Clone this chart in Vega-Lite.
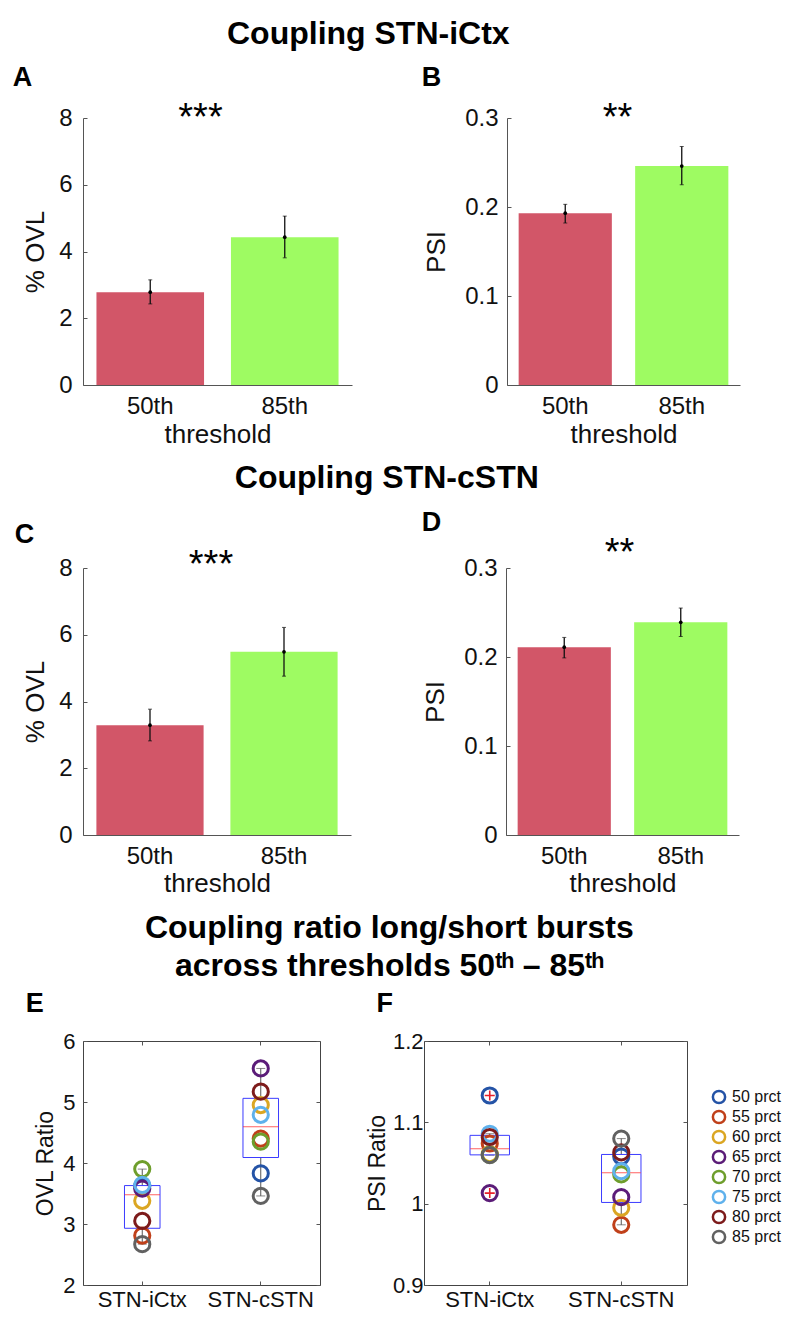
{
  "$schema": "https://vega.github.io/schema/vega-lite/v6.json",
  "background": "white",
  "padding": {"left": 12, "top": 18, "right": 5, "bottom": 5},
  "config": {
    "font": "Liberation Sans",
    "view": {"stroke": null},
    "axis": {"grid": false, "domainColor": "#555555", "tickColor": "#555555", "labelColor": "#111111", "titleColor": "#111111", "titleFontWeight": "normal", "labelFont": "Liberation Sans", "titleFont": "Liberation Sans", "tickSize": -4, "domainWidth": 1, "tickWidth": 1},
    "title": {"font": "Liberation Sans", "color": "#000000", "fontWeight": "bold"}
  },
  "datasets": {
    "bars": [
      {"panel": "A", "threshold": "50th", "mean": 2.78, "lo": 2.43, "hi": 3.15},
      {"panel": "A", "threshold": "85th", "mean": 4.43, "lo": 3.81, "hi": 5.06},
      {"panel": "B", "threshold": "50th", "mean": 0.193, "lo": 0.182, "hi": 0.203},
      {"panel": "B", "threshold": "85th", "mean": 0.246, "lo": 0.225, "hi": 0.268},
      {"panel": "C", "threshold": "50th", "mean": 3.29, "lo": 2.82, "hi": 3.77},
      {"panel": "C", "threshold": "85th", "mean": 5.49, "lo": 4.76, "hi": 6.22},
      {"panel": "D", "threshold": "50th", "mean": 0.211, "lo": 0.199, "hi": 0.222},
      {"panel": "D", "threshold": "85th", "mean": 0.239, "lo": 0.223, "hi": 0.255}
    ],
    "sig": [
      {"panel": "A", "sig": "***"},
      {"panel": "B", "sig": "**"},
      {"panel": "C", "sig": "***"},
      {"panel": "D", "sig": "**"}
    ],
    "ratios": [
      {"panel": "E", "pair": "STN-iCtx", "prct": "50 prct", "ratio": 3.62},
      {"panel": "E", "pair": "STN-iCtx", "prct": "55 prct", "ratio": 2.81},
      {"panel": "E", "pair": "STN-iCtx", "prct": "60 prct", "ratio": 3.38},
      {"panel": "E", "pair": "STN-iCtx", "prct": "65 prct", "ratio": 3.58},
      {"panel": "E", "pair": "STN-iCtx", "prct": "70 prct", "ratio": 3.90},
      {"panel": "E", "pair": "STN-iCtx", "prct": "75 prct", "ratio": 3.64},
      {"panel": "E", "pair": "STN-iCtx", "prct": "80 prct", "ratio": 3.05},
      {"panel": "E", "pair": "STN-iCtx", "prct": "85 prct", "ratio": 2.67},
      {"panel": "E", "pair": "STN-cSTN", "prct": "50 prct", "ratio": 3.83},
      {"panel": "E", "pair": "STN-cSTN", "prct": "55 prct", "ratio": 4.40},
      {"panel": "E", "pair": "STN-cSTN", "prct": "60 prct", "ratio": 4.95},
      {"panel": "E", "pair": "STN-cSTN", "prct": "65 prct", "ratio": 5.55},
      {"panel": "E", "pair": "STN-cSTN", "prct": "70 prct", "ratio": 4.35},
      {"panel": "E", "pair": "STN-cSTN", "prct": "75 prct", "ratio": 4.79},
      {"panel": "E", "pair": "STN-cSTN", "prct": "80 prct", "ratio": 5.17},
      {"panel": "E", "pair": "STN-cSTN", "prct": "85 prct", "ratio": 3.46},
      {"panel": "F", "pair": "STN-iCtx", "prct": "50 prct", "ratio": 1.133},
      {"panel": "F", "pair": "STN-iCtx", "prct": "55 prct", "ratio": 1.074},
      {"panel": "F", "pair": "STN-iCtx", "prct": "60 prct", "ratio": 1.061},
      {"panel": "F", "pair": "STN-iCtx", "prct": "65 prct", "ratio": 1.013},
      {"panel": "F", "pair": "STN-iCtx", "prct": "70 prct", "ratio": 1.060},
      {"panel": "F", "pair": "STN-iCtx", "prct": "75 prct", "ratio": 1.086},
      {"panel": "F", "pair": "STN-iCtx", "prct": "80 prct", "ratio": 1.082},
      {"panel": "F", "pair": "STN-iCtx", "prct": "85 prct", "ratio": 1.0596},
      {"panel": "F", "pair": "STN-cSTN", "prct": "50 prct", "ratio": 1.058},
      {"panel": "F", "pair": "STN-cSTN", "prct": "55 prct", "ratio": 0.974},
      {"panel": "F", "pair": "STN-cSTN", "prct": "60 prct", "ratio": 0.995},
      {"panel": "F", "pair": "STN-cSTN", "prct": "65 prct", "ratio": 1.008},
      {"panel": "F", "pair": "STN-cSTN", "prct": "70 prct", "ratio": 1.036},
      {"panel": "F", "pair": "STN-cSTN", "prct": "75 prct", "ratio": 1.040},
      {"panel": "F", "pair": "STN-cSTN", "prct": "80 prct", "ratio": 1.063},
      {"panel": "F", "pair": "STN-cSTN", "prct": "85 prct", "ratio": 1.080}
    ],
    "boxes": [
      {"panel": "E", "pair": "STN-iCtx", "lo": 2.67, "q1": 2.93, "median": 3.48, "q3": 3.63, "hi": 3.90},
      {"panel": "E", "pair": "STN-cSTN", "lo": 3.46, "q1": 4.09, "median": 4.595, "q3": 5.06, "hi": 5.55},
      {"panel": "F", "pair": "STN-iCtx", "lo": 1.0596, "q1": 1.060, "median": 1.0675, "q3": 1.084, "hi": 1.086},
      {"panel": "F", "pair": "STN-cSTN", "lo": 0.974, "q1": 1.0015, "median": 1.038, "q3": 1.0605, "hi": 1.080}
    ],
    "outliers": [
      {"panel": "F", "pair": "STN-iCtx", "value": 1.133},
      {"panel": "F", "pair": "STN-iCtx", "value": 1.013}
    ]
  },
  "resolve": {"scale": {"color": "independent"}},
  "columns": 1,
  "align": "none",
  "spacing": 15,
  "concat": [
    {
      "title": {"text": "Coupling STN-iCtx", "fontSize": 32, "anchor": "middle", "offset": 13, "dx": -8},
      "spacing": 69,
      "resolve": {"scale": {"color": "independent"}},
      "hconcat": [
        {
          "title": {"text": "A", "anchor": "start", "frame": "bounds", "fontSize": 27, "offset": 8, "dx": -10},
          "width": 269, "height": 267,
          "layer": [
            {"data": {"name": "bars"}, "transform": [{"filter": "datum.panel === 'A'"}],
             "mark": {"type": "bar"},
             "encoding": {
               "x": {"field": "threshold", "type": "nominal", "scale": {"domain": ["50th", "85th"], "paddingInner": 0.2, "paddingOuter": 0.1}, "axis": {"title": "threshold", "labelAngle": 0, "labelFontSize": 24, "titleFontSize": 26, "labelPadding": 13, "titlePadding": 3}},
               "y": {"field": "mean", "type": "quantitative", "scale": {"domain": [0, 8], "nice": false}, "axis": {"title": "% OVL", "values": [0, 2, 4, 6, 8], "labelFontSize": 24, "titleFontSize": 26, "labelPadding": 15, "titlePadding": 10}},
               "color": {"field": "threshold", "type": "nominal", "scale": {"domain": ["50th", "85th"], "range": ["#D25668", "#9EFB62"]}, "legend": null}}},
            {"data": {"name": "bars"}, "transform": [{"filter": "datum.panel === 'A'"}],
             "mark": {"type": "rule", "color": "#111111", "strokeWidth": 1.3},
             "encoding": {"x": {"field": "threshold", "type": "nominal"}, "y": {"field": "lo", "type": "quantitative"}, "y2": {"field": "hi"}}},
            {"data": {"name": "bars"}, "transform": [{"filter": "datum.panel === 'A'"}],
             "mark": {"type": "tick", "color": "#111111", "size": 4, "thickness": 1},
             "encoding": {"x": {"field": "threshold", "type": "nominal"}, "y": {"field": "lo", "type": "quantitative"}}},
            {"data": {"name": "bars"}, "transform": [{"filter": "datum.panel === 'A'"}],
             "mark": {"type": "tick", "color": "#111111", "size": 4, "thickness": 1},
             "encoding": {"x": {"field": "threshold", "type": "nominal"}, "y": {"field": "hi", "type": "quantitative"}}},
            {"data": {"name": "bars"}, "transform": [{"filter": "datum.panel === 'A'"}],
             "mark": {"type": "point", "filled": true, "color": "#000000", "size": 14, "opacity": 1},
             "encoding": {"x": {"field": "threshold", "type": "nominal"}, "y": {"field": "mean", "type": "quantitative"}}},
            {"data": {"name": "sig"}, "transform": [{"filter": "datum.panel === 'A'"}],
             "mark": {"type": "text", "fontSize": 38, "dx": -17, "dy": 12, "baseline": "alphabetic", "color": "#000000"},
             "encoding": {"y": {"datum": 8}, "text": {"field": "sig"}}}
          ]
        },
        {
          "title": {"text": "B", "anchor": "start", "frame": "bounds", "fontSize": 27, "offset": 8, "dx": -2},
          "width": 233, "height": 267,
          "layer": [
            {"data": {"name": "bars"}, "transform": [{"filter": "datum.panel === 'B'"}],
             "mark": {"type": "bar"},
             "encoding": {
               "x": {"field": "threshold", "type": "nominal", "scale": {"domain": ["50th", "85th"], "paddingInner": 0.2, "paddingOuter": 0.1}, "axis": {"title": "threshold", "labelAngle": 0, "labelFontSize": 24, "titleFontSize": 26, "labelPadding": 13, "titlePadding": 3}},
               "y": {"field": "mean", "type": "quantitative", "scale": {"domain": [0, 0.3], "nice": false}, "axis": {"title": "PSI", "values": [0, 0.1, 0.2, 0.3], "format": ".1~f", "labelFontSize": 24, "titleFontSize": 26, "labelPadding": 13, "titlePadding": 15}},
               "color": {"field": "threshold", "type": "nominal", "scale": {"domain": ["50th", "85th"], "range": ["#D25668", "#9EFB62"]}, "legend": null}}},
            {"data": {"name": "bars"}, "transform": [{"filter": "datum.panel === 'B'"}],
             "mark": {"type": "rule", "color": "#111111", "strokeWidth": 1.3},
             "encoding": {"x": {"field": "threshold", "type": "nominal"}, "y": {"field": "lo", "type": "quantitative"}, "y2": {"field": "hi"}}},
            {"data": {"name": "bars"}, "transform": [{"filter": "datum.panel === 'B'"}],
             "mark": {"type": "tick", "color": "#111111", "size": 4, "thickness": 1},
             "encoding": {"x": {"field": "threshold", "type": "nominal"}, "y": {"field": "lo", "type": "quantitative"}}},
            {"data": {"name": "bars"}, "transform": [{"filter": "datum.panel === 'B'"}],
             "mark": {"type": "tick", "color": "#111111", "size": 4, "thickness": 1},
             "encoding": {"x": {"field": "threshold", "type": "nominal"}, "y": {"field": "hi", "type": "quantitative"}}},
            {"data": {"name": "bars"}, "transform": [{"filter": "datum.panel === 'B'"}],
             "mark": {"type": "point", "filled": true, "color": "#000000", "size": 14, "opacity": 1},
             "encoding": {"x": {"field": "threshold", "type": "nominal"}, "y": {"field": "mean", "type": "quantitative"}}},
            {"data": {"name": "sig"}, "transform": [{"filter": "datum.panel === 'B'"}],
             "mark": {"type": "text", "fontSize": 38, "dx": -6, "dy": 12, "baseline": "alphabetic", "color": "#000000"},
             "encoding": {"y": {"datum": 0.3}, "text": {"field": "sig"}}}
          ]
        }
      ]
    },
    {
      "title": {"text": "Coupling STN-cSTN", "fontSize": 32, "anchor": "middle", "offset": 14, "dx": 10},
      "spacing": 70,
      "resolve": {"scale": {"color": "independent"}},
      "hconcat": [
        {
          "title": {"text": "C", "anchor": "start", "frame": "bounds", "fontSize": 27, "offset": -2, "dx": -8},
          "width": 268, "height": 267,
          "layer": [
            {"data": {"name": "bars"}, "transform": [{"filter": "datum.panel === 'C'"}],
             "mark": {"type": "bar"},
             "encoding": {
               "x": {"field": "threshold", "type": "nominal", "scale": {"domain": ["50th", "85th"], "paddingInner": 0.2, "paddingOuter": 0.1}, "axis": {"title": "threshold", "labelAngle": 0, "labelFontSize": 24, "titleFontSize": 26, "labelPadding": 13, "titlePadding": 2}},
               "y": {"field": "mean", "type": "quantitative", "scale": {"domain": [0, 8], "nice": false}, "axis": {"title": "% OVL", "values": [0, 2, 4, 6, 8], "labelFontSize": 24, "titleFontSize": 26, "labelPadding": 15, "titlePadding": 10}},
               "color": {"field": "threshold", "type": "nominal", "scale": {"domain": ["50th", "85th"], "range": ["#D25668", "#9EFB62"]}, "legend": null}}},
            {"data": {"name": "bars"}, "transform": [{"filter": "datum.panel === 'C'"}],
             "mark": {"type": "rule", "color": "#111111", "strokeWidth": 1.3},
             "encoding": {"x": {"field": "threshold", "type": "nominal"}, "y": {"field": "lo", "type": "quantitative"}, "y2": {"field": "hi"}}},
            {"data": {"name": "bars"}, "transform": [{"filter": "datum.panel === 'C'"}],
             "mark": {"type": "tick", "color": "#111111", "size": 4, "thickness": 1},
             "encoding": {"x": {"field": "threshold", "type": "nominal"}, "y": {"field": "lo", "type": "quantitative"}}},
            {"data": {"name": "bars"}, "transform": [{"filter": "datum.panel === 'C'"}],
             "mark": {"type": "tick", "color": "#111111", "size": 4, "thickness": 1},
             "encoding": {"x": {"field": "threshold", "type": "nominal"}, "y": {"field": "hi", "type": "quantitative"}}},
            {"data": {"name": "bars"}, "transform": [{"filter": "datum.panel === 'C'"}],
             "mark": {"type": "point", "filled": true, "color": "#000000", "size": 14, "opacity": 1},
             "encoding": {"x": {"field": "threshold", "type": "nominal"}, "y": {"field": "mean", "type": "quantitative"}}},
            {"data": {"name": "sig"}, "transform": [{"filter": "datum.panel === 'C'"}],
             "mark": {"type": "text", "fontSize": 38, "dx": -6, "dy": 9, "baseline": "alphabetic", "color": "#000000"},
             "encoding": {"y": {"datum": 8}, "text": {"field": "sig"}}}
          ]
        },
        {
          "title": {"text": "D", "anchor": "start", "frame": "bounds", "fontSize": 27, "offset": -2, "dx": -1},
          "width": 233, "height": 267,
          "layer": [
            {"data": {"name": "bars"}, "transform": [{"filter": "datum.panel === 'D'"}],
             "mark": {"type": "bar"},
             "encoding": {
               "x": {"field": "threshold", "type": "nominal", "scale": {"domain": ["50th", "85th"], "paddingInner": 0.2, "paddingOuter": 0.1}, "axis": {"title": "threshold", "labelAngle": 0, "labelFontSize": 24, "titleFontSize": 26, "labelPadding": 13, "titlePadding": 2}},
               "y": {"field": "mean", "type": "quantitative", "scale": {"domain": [0, 0.3], "nice": false}, "axis": {"title": "PSI", "values": [0, 0.1, 0.2, 0.3], "format": ".1~f", "labelFontSize": 24, "titleFontSize": 26, "labelPadding": 13, "titlePadding": 15}},
               "color": {"field": "threshold", "type": "nominal", "scale": {"domain": ["50th", "85th"], "range": ["#D25668", "#9EFB62"]}, "legend": null}}},
            {"data": {"name": "bars"}, "transform": [{"filter": "datum.panel === 'D'"}],
             "mark": {"type": "rule", "color": "#111111", "strokeWidth": 1.3},
             "encoding": {"x": {"field": "threshold", "type": "nominal"}, "y": {"field": "lo", "type": "quantitative"}, "y2": {"field": "hi"}}},
            {"data": {"name": "bars"}, "transform": [{"filter": "datum.panel === 'D'"}],
             "mark": {"type": "tick", "color": "#111111", "size": 4, "thickness": 1},
             "encoding": {"x": {"field": "threshold", "type": "nominal"}, "y": {"field": "lo", "type": "quantitative"}}},
            {"data": {"name": "bars"}, "transform": [{"filter": "datum.panel === 'D'"}],
             "mark": {"type": "tick", "color": "#111111", "size": 4, "thickness": 1},
             "encoding": {"x": {"field": "threshold", "type": "nominal"}, "y": {"field": "hi", "type": "quantitative"}}},
            {"data": {"name": "bars"}, "transform": [{"filter": "datum.panel === 'D'"}],
             "mark": {"type": "point", "filled": true, "color": "#000000", "size": 14, "opacity": 1},
             "encoding": {"x": {"field": "threshold", "type": "nominal"}, "y": {"field": "mean", "type": "quantitative"}}},
            {"data": {"name": "sig"}, "transform": [{"filter": "datum.panel === 'D'"}],
             "mark": {"type": "text", "fontSize": 38, "dx": -3, "dy": -3, "baseline": "alphabetic", "color": "#000000"},
             "encoding": {"y": {"datum": 0.3}, "text": {"field": "sig"}}}
          ]
        }
      ]
    },
    {
      "title": {"text": ["Coupling ratio long/short bursts", "across thresholds 50ᵗʰ – 85ᵗʰ"], "fontSize": 32, "lineHeight": 38, "anchor": "middle", "offset": 7, "dx": -14},
      "spacing": 44,
      "resolve": {"scale": {"color": "independent"}},
      "hconcat": [
        {
          "title": {"text": "E", "anchor": "start", "frame": "bounds", "fontSize": 27, "offset": 12, "dx": -9},
          "width": 237, "height": 244,
          "view": {"stroke": "#444444", "strokeWidth": 1},
          "resolve": {"axis": {"x": "independent", "y": "independent"}},
          "layer": [
            {"data": {"name": "boxes"}, "transform": [{"filter": "datum.panel === 'E'"}],
             "mark": {"type": "rule", "color": "#555555", "strokeWidth": 1},
             "encoding": {
               "x": {"field": "pair", "type": "nominal", "scale": {"domain": ["STN-iCtx", "STN-cSTN"], "paddingInner": 0.7, "paddingOuter": 0.35}, "axis": {"title": null, "labelAngle": 0, "labelFontSize": 22, "labelPadding": 8, "domain": false}},
               "y": {"field": "lo", "type": "quantitative", "scale": {"domain": [2, 6], "nice": false}, "axis": {"title": "OVL Ratio", "values": [2, 3, 4, 5, 6], "labelFontSize": 22, "titleFontSize": 23, "labelPadding": 12, "titlePadding": 5, "domain": false}},
               "y2": {"field": "q1"}}},
            {"data": {"name": "boxes"}, "transform": [{"filter": "datum.panel === 'E'"}],
             "mark": {"type": "rule", "color": "#555555", "strokeWidth": 1},
             "encoding": {"x": {"field": "pair", "type": "nominal", "axis": null}, "y": {"field": "q3", "type": "quantitative", "axis": null}, "y2": {"field": "hi"}}},
            {"data": {"name": "boxes"}, "transform": [{"filter": "datum.panel === 'E'"}],
             "mark": {"type": "tick", "color": "#555555", "size": 9, "thickness": 1},
             "encoding": {"x": {"field": "pair", "type": "nominal", "axis": null}, "y": {"field": "lo", "type": "quantitative", "axis": null}}},
            {"data": {"name": "boxes"}, "transform": [{"filter": "datum.panel === 'E'"}],
             "mark": {"type": "tick", "color": "#555555", "size": 9, "thickness": 1},
             "encoding": {"x": {"field": "pair", "type": "nominal", "axis": null}, "y": {"field": "hi", "type": "quantitative", "axis": null}}},
            {"data": {"name": "boxes"}, "transform": [{"filter": "datum.panel === 'E'"}],
             "mark": {"type": "bar", "filled": false, "color": "#3B3BFF", "strokeWidth": 1},
             "encoding": {"x": {"field": "pair", "type": "nominal", "axis": null}, "y": {"field": "q1", "type": "quantitative", "axis": null}, "y2": {"field": "q3"}}},
            {"data": {"name": "boxes"}, "transform": [{"filter": "datum.panel === 'E'"}],
             "mark": {"type": "tick", "color": "#FF2020", "size": 35.5, "thickness": 1},
             "encoding": {"x": {"field": "pair", "type": "nominal", "axis": null}, "y": {"field": "median", "type": "quantitative", "axis": null}}},
            {"data": {"name": "ratios"}, "transform": [{"filter": "datum.panel === 'E'"}],
             "mark": {"type": "point", "shape": "circle", "filled": false, "strokeWidth": 3, "size": 230, "opacity": 1},
             "encoding": {"x": {"field": "pair", "type": "nominal", "axis": null}, "y": {"field": "ratio", "type": "quantitative", "axis": null},
               "color": {"field": "prct", "type": "nominal", "scale": {"domain": ["50 prct", "55 prct", "60 prct", "65 prct", "70 prct", "75 prct", "80 prct", "85 prct"], "range": ["#2453A6", "#C0401A", "#DBA622", "#5B1C78", "#6E9E2C", "#5FB1EC", "#7D1B1B", "#616161"]}, "legend": null}}},
            {"data": {"name": "boxes"}, "transform": [{"filter": "datum.panel === 'E'"}],
             "mark": {"type": "point", "opacity": 0},
             "encoding": {"x": {"field": "pair", "type": "nominal", "axis": {"orient": "top", "labels": false, "domain": false, "title": null}}, "y": {"field": "median", "type": "quantitative", "axis": {"orient": "right", "labels": false, "domain": false, "title": null, "values": [2, 3, 4, 5, 6]}}}}
          ]
        },
        {
          "title": {"text": "F", "anchor": "start", "frame": "bounds", "fontSize": 27, "offset": 12, "dx": 10},
          "width": 263, "height": 244,
          "view": {"stroke": "#444444", "strokeWidth": 1},
          "resolve": {"axis": {"x": "independent", "y": "independent"}},
          "layer": [
            {"data": {"name": "boxes"}, "transform": [{"filter": "datum.panel === 'F'"}],
             "mark": {"type": "rule", "color": "#555555", "strokeWidth": 1},
             "encoding": {
               "x": {"field": "pair", "type": "nominal", "scale": {"domain": ["STN-iCtx", "STN-cSTN"], "paddingInner": 0.7, "paddingOuter": 0.35}, "axis": {"title": null, "labelAngle": 0, "labelFontSize": 22, "labelPadding": 8, "domain": false}},
               "y": {"field": "lo", "type": "quantitative", "scale": {"domain": [0.9, 1.2], "nice": false}, "axis": {"title": "PSI Ratio", "values": [0.9, 1, 1.1, 1.2], "format": ".1~f", "labelFontSize": 22, "titleFontSize": 23, "labelPadding": 5, "titlePadding": 3, "domain": false}},
               "y2": {"field": "q1"}}},
            {"data": {"name": "boxes"}, "transform": [{"filter": "datum.panel === 'F'"}],
             "mark": {"type": "rule", "color": "#555555", "strokeWidth": 1},
             "encoding": {"x": {"field": "pair", "type": "nominal", "axis": null}, "y": {"field": "q3", "type": "quantitative", "axis": null}, "y2": {"field": "hi"}}},
            {"data": {"name": "boxes"}, "transform": [{"filter": "datum.panel === 'F'"}],
             "mark": {"type": "tick", "color": "#555555", "size": 9, "thickness": 1},
             "encoding": {"x": {"field": "pair", "type": "nominal", "axis": null}, "y": {"field": "lo", "type": "quantitative", "axis": null}}},
            {"data": {"name": "boxes"}, "transform": [{"filter": "datum.panel === 'F'"}],
             "mark": {"type": "tick", "color": "#555555", "size": 9, "thickness": 1},
             "encoding": {"x": {"field": "pair", "type": "nominal", "axis": null}, "y": {"field": "hi", "type": "quantitative", "axis": null}}},
            {"data": {"name": "boxes"}, "transform": [{"filter": "datum.panel === 'F'"}],
             "mark": {"type": "bar", "filled": false, "color": "#3B3BFF", "strokeWidth": 1},
             "encoding": {"x": {"field": "pair", "type": "nominal", "axis": null}, "y": {"field": "q1", "type": "quantitative", "axis": null}, "y2": {"field": "q3"}}},
            {"data": {"name": "boxes"}, "transform": [{"filter": "datum.panel === 'F'"}],
             "mark": {"type": "tick", "color": "#FF2020", "size": 39, "thickness": 1},
             "encoding": {"x": {"field": "pair", "type": "nominal", "axis": null}, "y": {"field": "median", "type": "quantitative", "axis": null}}},
            {"data": {"name": "ratios"}, "transform": [{"filter": "datum.panel === 'F'"}],
             "mark": {"type": "point", "shape": "circle", "filled": false, "strokeWidth": 3, "size": 230, "opacity": 1},
             "encoding": {"x": {"field": "pair", "type": "nominal", "axis": null}, "y": {"field": "ratio", "type": "quantitative", "axis": null},
               "color": {"field": "prct", "type": "nominal", "scale": {"domain": ["50 prct", "55 prct", "60 prct", "65 prct", "70 prct", "75 prct", "80 prct", "85 prct"], "range": ["#2453A6", "#C0401A", "#DBA622", "#5B1C78", "#6E9E2C", "#5FB1EC", "#7D1B1B", "#616161"]},
               "legend": {"title": null, "orient": "none", "legendX": 287, "legendY": 48, "padding": 0, "symbolType": "circle", "symbolSize": 150, "symbolStrokeWidth": 2.5, "labelFontSize": 16, "labelFont": "Liberation Sans", "labelColor": "#111111", "rowPadding": -6, "labelOffset": 5}}}},
            {"data": {"name": "outliers"}, "transform": [{"filter": "datum.panel === 'F'"}],
             "mark": {"type": "point", "shape": "M-1,0H1M0,-1V1", "filled": false, "color": "#E8202A", "strokeWidth": 1.6, "size": 100, "opacity": 1},
             "encoding": {"x": {"field": "pair", "type": "nominal", "axis": null}, "y": {"field": "value", "type": "quantitative", "axis": null}}},
            {"data": {"name": "boxes"}, "transform": [{"filter": "datum.panel === 'F'"}],
             "mark": {"type": "point", "opacity": 0},
             "encoding": {"x": {"field": "pair", "type": "nominal", "axis": {"orient": "top", "labels": false, "domain": false, "title": null}}, "y": {"field": "median", "type": "quantitative", "axis": {"orient": "right", "labels": false, "domain": false, "title": null, "values": [0.9, 1, 1.1, 1.2]}}}}
          ]
        }
      ]
    }
  ]
}
